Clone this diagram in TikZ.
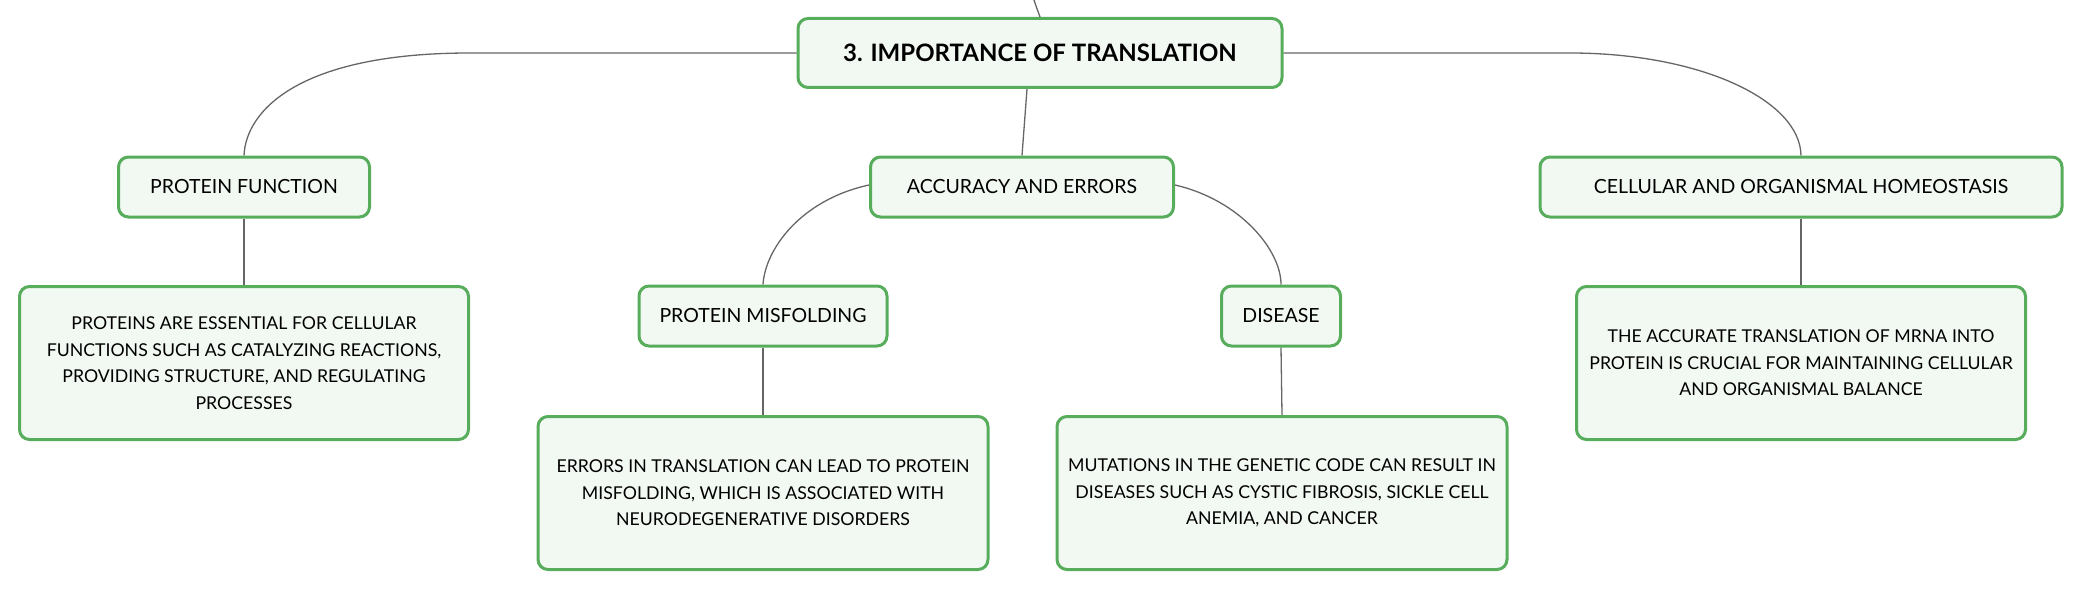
\documentclass[tikz,border=0pt]{standalone}
\usepackage{fontspec}
\setmainfont{Lato}
\definecolor{boxgreen}{HTML}{58AD5C}
\definecolor{boxfill}{HTML}{F2F8F2}
\definecolor{linegray}{HTML}{666666}
\tikzset{
  box/.style={draw=boxgreen, fill=boxfill, line width=3pt, rounded corners=10pt,
    inner sep=0pt, align=center, text=black,
    font=\fontsize{19.5}{26.5}\selectfont},
  bodybox/.style={box, font=\fontsize{17.7}{26.6}\selectfont},
  headbox/.style={box, font=\bfseries\fontsize{24}{28}\selectfont},
  conn/.style={draw=linegray, line width=1.3pt},
}
\begin{document}
\begin{tikzpicture}[x=1pt,y=-1pt]
\useasboundingbox (0,0) rectangle (2082,591);
\node[headbox, minimum width=484, minimum height=69] (main) at (1040,53) {3. IMPORTANCE OF TRANSLATION};
\node[box, minimum width=251, minimum height=60] (pf) at (244,187) {PROTEIN FUNCTION};
\node[bodybox, minimum width=449, minimum height=153] (pfd) at (244,363) {PROTEINS ARE ESSENTIAL FOR CELLULAR\\FUNCTIONS SUCH AS CATALYZING REACTIONS,\\PROVIDING STRUCTURE, AND REGULATING\\PROCESSES};
\node[box, minimum width=303, minimum height=60] (acc) at (1022,187) {ACCURACY AND ERRORS};
\node[box, minimum width=248, minimum height=60] (pm) at (763,316) {PROTEIN MISFOLDING};
\node[box, minimum width=119, minimum height=60] (dis) at (1281,316) {DISEASE};
\node[bodybox, minimum width=450, minimum height=153] (pmd) at (763,493) {ERRORS IN TRANSLATION CAN LEAD TO PROTEIN\\MISFOLDING, WHICH IS ASSOCIATED WITH\\NEURODEGENERATIVE DISORDERS};
\node[bodybox, minimum width=450, minimum height=153] (disd) at (1282,493) {MUTATIONS IN THE GENETIC CODE CAN RESULT IN\\DISEASES SUCH AS CYSTIC FIBROSIS, SICKLE CELL\\ANEMIA, AND CANCER};
\node[box, minimum width=522, minimum height=60] (cell) at (1801,187) {CELLULAR AND ORGANISMAL HOMEOSTASIS};
\node[bodybox, minimum width=449, minimum height=153] (celld) at (1801,363) {THE ACCURATE TRANSLATION OF MRNA INTO\\PROTEIN IS CRUCIAL FOR MAINTAINING CELLULAR\\AND ORGANISMAL BALANCE};
\coordinate (top) at (1034,0);
\draw[conn] (top) .. controls (1036,6) .. (main.north);
\draw[conn] (main.west) -- (470,53) .. controls (300,53) and (246,110) .. (pf.north);
\draw[conn] (main.east) -- (1570,53) .. controls (1700,53) and (1800,100) .. (cell.north);
\draw[conn] ([xshift=-13pt]main.south) -- (acc.north);
\draw[conn] (pf.south) -- (pfd.north);
\draw[conn] ([yshift=2pt]acc.west) .. controls (800,200) and (765,250) .. (pm.north);
\draw[conn] ([yshift=2pt]acc.east) .. controls (1240,200) and (1281,250) .. (dis.north);
\draw[conn] (pm.south) -- (pmd.north);
\draw[conn] (dis.south) -- (disd.north);
\draw[conn] (cell.south) -- (celld.north);
\end{tikzpicture}
\end{document}
